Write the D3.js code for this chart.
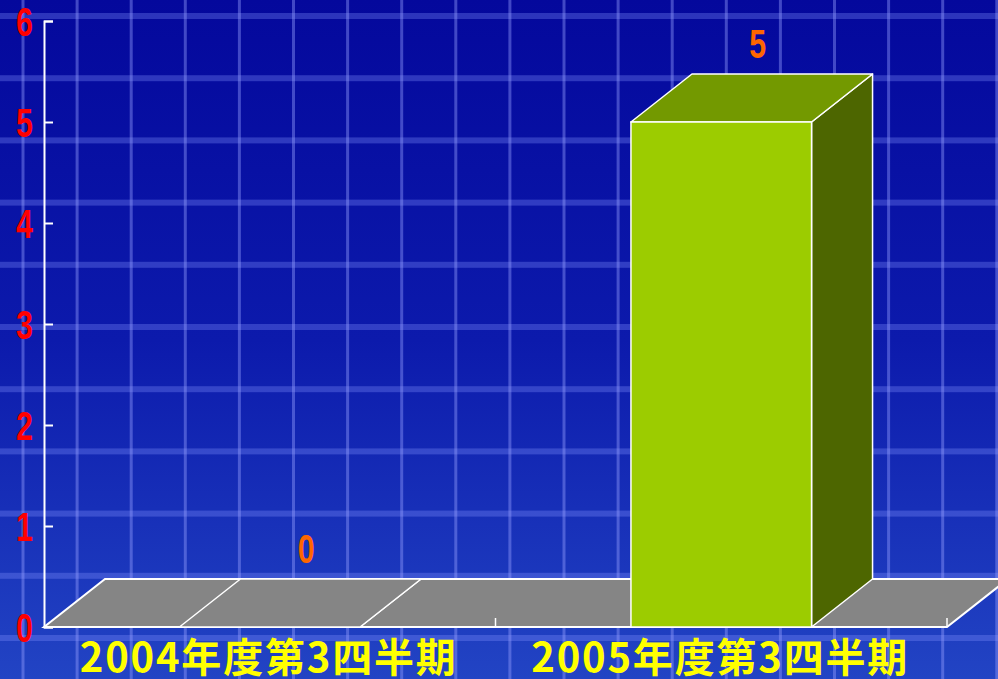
<!DOCTYPE html>
<html>
<head>
<meta charset="utf-8">
<script src="https://cdn.jsdelivr.net/npm/d3@7"></script>
<style>
  html, body { margin: 0; padding: 0; background: #0c16a8; }
  svg { display: block; }
</style>
</head>
<body>
<svg id="chart" width="998" height="679"></svg>
<script>
// data
let categories = ["2004年度第3四半期", "2005年度第3四半期"];
let values = [0, 5];
let yTicks = [0, 1, 2, 3, 4, 5, 6];

let width = 998, height = 679;
let depthX = 61, depthY = -48;

let svg = d3.select("#chart");

// background
let defs = svg.append("defs");
let grad = defs.append("linearGradient")
  .attr("id", "bg")
  .attr("x1", 0).attr("y1", 0).attr("x2", 0).attr("y2", 1);
grad.append("stop").attr("offset", "0%").attr("stop-color", "#04089c");
grad.append("stop").attr("offset", "50%").attr("stop-color", "#0c1aac");
grad.append("stop").attr("offset", "100%").attr("stop-color", "#2244c4");

svg.append("rect")
  .attr("width", width)
  .attr("height", height)
  .attr("fill", "url(#bg)");

// grid pattern of the slide background
svg.append("g")
  .selectAll("rect")
  .data(d3.range(16, height, 62.2))
  .join("rect")
  .attr("x", 0)
  .attr("y", d => d - 3)
  .attr("width", width)
  .attr("height", 6)
  .attr("fill", "rgba(130,145,255,0.32)");

svg.append("g")
  .selectAll("rect")
  .data(d3.range(23, width, 54.1))
  .join("rect")
  .attr("x", d => d - 1.5)
  .attr("y", 0)
  .attr("width", 3)
  .attr("height", height)
  .attr("fill", "rgba(150,160,255,0.42)");

// scales
let xScale = d3.scaleBand()
  .domain(categories)
  .range([44, 947]);

let yScale = d3.scaleLinear()
  .domain([0, 6])
  .range([627, 21]);

let barW = xScale.bandwidth() * 0.4;
let y0 = yScale(0);

let pts = p => p.map(q => q.join(",")).join(" ");

// floor
svg.append("polygon")
  .attr("points", pts([
    [xScale.range()[0], y0],
    [xScale.range()[1], y0],
    [xScale.range()[1] + depthX, y0 + depthY],
    [xScale.range()[0] + depthX, y0 + depthY]
  ]))
  .attr("fill", "#858585")
  .attr("stroke", "white")
  .attr("stroke-width", 2);

// x axis ticks (pointing up, inside the floor)
svg.append("g")
  .selectAll("line")
  .data([xScale.range()[0] + xScale.bandwidth(), xScale.range()[1]])
  .join("line")
  .attr("x1", d => d).attr("x2", d => d)
  .attr("y1", y0).attr("y2", y0 - 9)
  .attr("stroke", "white")
  .attr("stroke-width", 1.5);

// y axis
let yAxis = svg.append("g")
  .attr("transform", "translate(44,0)")
  .call(d3.axisRight(yScale)
    .tickValues(yTicks)
    .tickSize(9)
    .tickSizeOuter(9)
    .tickFormat(""));
yAxis.select(".domain").attr("stroke", "white").attr("stroke-width", 2);
yAxis.selectAll(".tick line").attr("stroke", "white").attr("stroke-width", 2);

svg.append("g")
  .selectAll("text")
  .data(yTicks)
  .join("text")
  .attr("transform", d => `translate(33,${yScale(d) + 15}) scale(0.74,1)`)
  .attr("text-anchor", "end")
  .style("font-family", "Liberation Sans, Arial, sans-serif")
  .style("font-weight", "bold")
  .style("font-size", "41px")
  .attr("fill", "#ff0000")
  .text(d => d);

// bars
let barFront = ["#858585", "#9ccc00"];
let barTop = ["#858585", "#739900"];
let barSide = ["#858585", "#4d6600"];

let bars = svg.append("g")
  .selectAll("g")
  .data(values.map((v, i) => ({ cat: categories[i], value: v, i: i })))
  .join("g");

bars.append("polygon")
  .attr("points", d => {
    let x0 = xScale(d.cat) + (xScale.bandwidth() - barW) / 2, x1 = x0 + barW, yt = yScale(d.value);
    return pts([[x1, yt], [x1 + depthX, yt + depthY], [x1 + depthX, y0 + depthY], [x1, y0]]);
  })
  .attr("fill", d => barSide[d.i])
  .attr("stroke", "white")
  .attr("stroke-width", 1.5)
  .attr("stroke-linejoin", "round");

bars.append("polygon")
  .attr("points", d => {
    let x0 = xScale(d.cat) + (xScale.bandwidth() - barW) / 2, x1 = x0 + barW, yt = yScale(d.value);
    return pts([[x0, yt], [x1, yt], [x1 + depthX, yt + depthY], [x0 + depthX, yt + depthY]]);
  })
  .attr("fill", d => barTop[d.i])
  .attr("stroke", "white")
  .attr("stroke-width", 1.5)
  .attr("stroke-linejoin", "round");

bars.append("rect")
  .attr("x", d => xScale(d.cat) + (xScale.bandwidth() - barW) / 2)
  .attr("y", d => yScale(d.value))
  .attr("width", barW)
  .attr("height", d => y0 - yScale(d.value))
  .attr("fill", d => barFront[d.i])
  .attr("stroke", "white")
  .attr("stroke-width", 1.5);

// value labels
bars.append("text")
  .attr("transform", d => {
    let cx = xScale(d.cat) + xScale.bandwidth() / 2 + depthX / 2 + 6;
    let y = yScale(d.value) + depthY - 16;
    return `translate(${cx},${y}) scale(0.74,1)`;
  })
  .attr("text-anchor", "middle")
  .style("font-family", "Liberation Sans, Arial, sans-serif")
  .style("font-weight", "bold")
  .style("font-size", "41px")
  .attr("fill", "#ff6600")
  .text(d => d.value);

// category labels
svg.append("g")
  .selectAll("text")
  .data(categories)
  .join("text")
  .attr("x", d => xScale(d) + xScale.bandwidth() / 2 - 2)
  .attr("y", 672)
  .attr("text-anchor", "middle")
  .attr("textLength", 376)
  .attr("lengthAdjust", "spacing")
  .style("font-family", "'Noto Sans CJK JP', sans-serif")
  .style("font-weight", "bold")
  .style("font-size", "40px")
  .attr("fill", "#ffff00")
  .text(d => d);
</script>
</body>
</html>
